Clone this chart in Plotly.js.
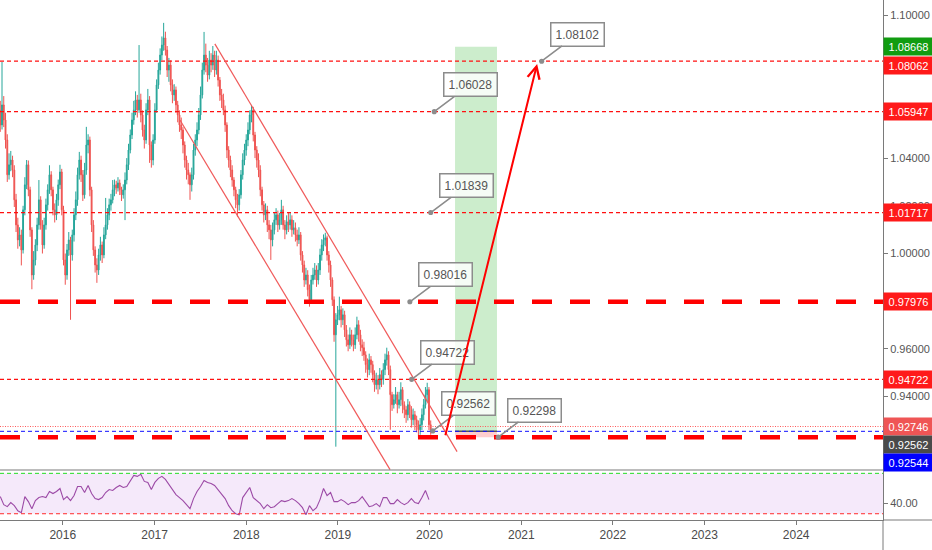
<!DOCTYPE html>
<html><head><meta charset="utf-8">
<script src="https://cdn.plot.ly/plotly-3.0.1.min.js"></script>
<style>html,body{margin:0;padding:0;background:#fff;}#chart{width:932px;height:550px;}</style>
</head><body><div id="chart"></div>
<script>
// ---- DATA (weekly candles) ----
const startWeek = '2015-04-27';
const firstOpen = 1.0600;
const closes = [
1.0539,1.0623,1.0560,1.0476,1.0330,1.0372,1.0392,1.0350,1.0225,1.0120,
1.0057,1.0078,1.0015,1.0183,1.0288,1.0372,1.0267,1.0099,0.9910,0.9973,
1.0036,1.0120,1.0225,1.0120,1.0036,1.0120,1.0204,1.0267,1.0330,1.0267,
1.0183,1.0162,1.0225,1.0288,1.0342,1.0183,0.9973,0.9910,1.0015,1.0057,
0.9994,1.0078,1.0162,1.0225,1.0330,1.0392,1.0330,1.0246,1.0350,1.0455,
1.0476,1.0267,1.0120,1.0015,0.9952,0.9931,0.9994,1.0036,0.9994,1.0078,
1.0120,1.0162,1.0204,1.0225,1.0267,1.0288,1.0275,1.0296,1.0267,1.0246,
1.0267,1.0308,1.0372,1.0434,1.0497,1.0560,1.0602,1.0644,1.0602,1.0644,
1.0581,1.0518,1.0476,1.0602,1.0644,1.0455,1.0392,1.0476,1.0602,1.0707,
1.0769,1.0832,1.0874,1.0904,1.0853,1.0769,1.0790,1.0707,1.0665,1.0686,
1.0623,1.0581,1.0539,1.0518,1.0455,1.0392,1.0350,1.0330,1.0288,1.0330,
1.0434,1.0476,1.0518,1.0581,1.0665,1.0769,1.0832,1.0790,1.0748,1.0811,
1.0790,1.0832,1.0769,1.0811,1.0727,1.0665,1.0644,1.0602,1.0539,1.0434,
1.0392,1.0350,1.0308,1.0267,1.0225,1.0204,1.0246,1.0330,1.0392,1.0434,
1.0476,1.0518,1.0581,1.0602,1.0497,1.0434,1.0392,1.0350,1.0267,1.0204,
1.0162,1.0183,1.0120,1.0099,1.0057,1.0099,1.0141,1.0162,1.0120,1.0141,
1.0183,1.0120,1.0099,1.0133,1.0120,1.0141,1.0099,1.0108,1.0078,1.0057,
1.0078,0.9994,0.9952,0.9889,0.9910,0.9848,0.9806,0.9889,0.9910,0.9931,
0.9889,0.9931,0.9994,1.0036,1.0057,1.0066,0.9994,0.9952,0.9889,0.9806,
0.9659,0.9722,0.9743,0.9764,0.9722,0.9743,0.9680,0.9638,0.9617,0.9659,
0.9638,0.9617,0.9659,0.9701,0.9659,0.9617,0.9605,0.9575,0.9534,0.9513,
0.9554,0.9534,0.9492,0.9450,0.9471,0.9450,0.9492,0.9471,0.9513,0.9554,
0.9575,0.9513,0.9408,0.9366,0.9387,0.9408,0.9366,0.9387,0.9429,0.9366,
0.9345,0.9324,0.9366,0.9345,0.9303,0.9324,0.9303,0.9282,0.9261,0.9282,
0.9324,0.9366,0.9408,0.9429,0.9282,0.92562];
const highs = [
1.0640,1.0803,1.0660,1.0590,1.0500,1.0420,1.0430,1.0410,1.0370,1.0250,
1.0150,1.0110,1.0100,1.0200,1.0320,1.0392,1.0390,1.0280,1.0110,1.0010,
1.0060,1.0150,1.0308,1.0240,1.0140,1.0150,1.0230,1.0290,1.0370,1.0345,
1.0280,1.0210,1.0250,1.0310,1.0372,1.0355,1.0200,1.0000,1.0040,1.0090,
1.0070,1.0100,1.0190,1.0260,1.0360,1.0426,1.0410,1.0350,1.0380,1.0531,
1.0500,1.0490,1.0280,1.0140,1.0030,0.9980,1.0020,1.0070,1.0050,1.0110,
1.0233,1.0190,1.0230,1.0250,1.0308,1.0310,1.0305,1.0320,1.0310,1.0280,
1.0290,1.0340,1.0400,1.0460,1.0520,1.0590,1.0640,1.0680,1.0665,1.0874,
1.0670,1.0600,1.0540,1.0630,1.0690,1.0660,1.0470,1.0500,1.0630,1.0730,
1.0800,1.0860,1.0910,1.0967,1.0930,1.0870,1.0820,1.0810,1.0730,1.0710,
1.0700,1.0640,1.0600,1.0570,1.0530,1.0470,1.0410,1.0380,1.0340,1.0360,
1.0460,1.0500,1.0550,1.0610,1.0700,1.0800,1.0929,1.0880,1.0820,1.0850,
1.0840,1.0870,1.0850,1.0850,1.0830,1.0740,1.0690,1.0670,1.0620,1.0550,
1.0450,1.0410,1.0370,1.0320,1.0280,1.0250,1.0270,1.0350,1.0420,1.0460,
1.0500,1.0550,1.0600,1.0623,1.0615,1.0510,1.0450,1.0420,1.0370,1.0280,
1.0220,1.0210,1.0200,1.0140,1.0120,1.0130,1.0170,1.0190,1.0180,1.0170,
1.0225,1.0200,1.0140,1.0160,1.0170,1.0170,1.0160,1.0140,1.0130,1.0100,
1.0110,1.0090,1.0010,0.9970,0.9940,0.9930,0.9870,0.9910,0.9940,0.9960,
0.9950,0.9960,1.0020,1.0060,1.0080,1.0087,1.0075,1.0010,0.9970,0.9900,
0.9820,0.9750,0.9780,0.9819,0.9780,0.9770,0.9760,0.9700,0.9660,0.9690,
0.9680,0.9660,0.9690,0.9735,0.9720,0.9680,0.9640,0.9630,0.9590,0.9560,
0.9580,0.9570,0.9550,0.9510,0.9500,0.9490,0.9520,0.9510,0.9540,0.9580,
0.9605,0.9590,0.9530,0.9420,0.9410,0.9440,0.9420,0.9420,0.9460,0.9440,
0.9380,0.9360,0.9390,0.9380,0.9360,0.9350,0.9340,0.9320,0.9300,0.9310,
0.9350,0.9390,0.9440,0.9458,0.9440,0.9300];
const lows = [
1.0510,1.0520,1.0530,1.0440,1.0300,1.0310,1.0345,1.0320,1.0195,1.0090,
1.0020,1.0030,0.9950,1.0000,1.0160,1.0270,1.0240,1.0070,0.9850,0.9890,
0.9950,1.0010,1.0100,1.0100,1.0000,1.0020,1.0100,1.0180,1.0250,1.0240,
1.0160,1.0130,1.0140,1.0200,1.0270,1.0160,0.9950,0.9869,0.9890,0.9990,
0.9722,0.9970,1.0050,1.0140,1.0200,1.0310,1.0300,1.0220,1.0230,1.0330,
1.0420,1.0240,1.0090,0.9990,0.9920,0.9877,0.9910,0.9970,0.9960,0.9980,
1.0060,1.0100,1.0140,1.0180,1.0210,1.0240,1.0250,1.0260,1.0245,1.0220,
1.0230,1.0140,1.0290,1.0350,1.0420,1.0480,1.0540,1.0580,1.0570,1.0590,
1.0550,1.0490,1.0440,1.0460,1.0580,1.0380,1.0360,1.0370,1.0460,1.0590,
1.0690,1.0750,1.0810,1.0850,1.0830,1.0740,1.0720,1.0680,1.0630,1.0640,
1.0590,1.0550,1.0510,1.0480,1.0420,1.0360,1.0310,1.0290,1.0225,1.0260,
1.0310,1.0410,1.0450,1.0500,1.0560,1.0650,1.0750,1.0760,1.0720,1.0730,
1.0760,1.0770,1.0740,1.0750,1.0700,1.0640,1.0610,1.0580,1.0510,1.0400,
1.0360,1.0320,1.0280,1.0240,1.0190,1.0154,1.0180,1.0230,1.0310,1.0370,
1.0410,1.0450,1.0500,1.0550,1.0470,1.0400,1.0360,1.0320,1.0240,1.0180,
1.0130,1.0140,1.0090,1.0060,0.9973,1.0030,1.0080,1.0120,1.0090,1.0100,
1.0120,1.0100,1.0060,1.0080,1.0090,1.0100,1.0070,1.0080,1.0050,1.0030,
1.0040,0.9970,0.9920,0.9860,0.9870,0.9820,0.9777,0.9790,0.9870,0.9890,
0.9860,0.9870,0.9910,0.9970,1.0010,1.0030,0.9970,0.9920,0.9860,0.9780,
0.9630,0.9190,0.9700,0.9720,0.9690,0.9700,0.9650,0.9610,0.9590,0.9600,
0.9610,0.9590,0.9600,0.9640,0.9630,0.9590,0.9570,0.9550,0.9500,0.9480,
0.9490,0.9500,0.9460,0.9420,0.9430,0.9410,0.9430,0.9440,0.9450,0.9490,
0.9530,0.9490,0.9261,0.9340,0.9350,0.9370,0.9330,0.9350,0.9360,0.9330,
0.9310,0.9290,0.9300,0.9310,0.9270,0.9280,0.9260,0.9250,0.9228,0.9240,
0.9260,0.9300,0.9350,0.9380,0.9260,0.9240];
// RSI, one reading every second week
const rsi = [47,39,37,41,38,33,31,47,42,35, 43,46,47,46,52,50,52,55,44,47,
43,48,57,57,51,58,50,45,44,46, 51,54,53,56,58,56,57,62,68,67,
69,62,61,54,61,65,67,64,59,55, 49,46,43,39,35,45,52,57,63,61,
60,58,54,50,45,38,33,30,29,46, 51,56,46,43,40,35,39,36,37,40,
43,42,43,45,43,40,36,29,38,33, 36,44,55,48,51,42,42,44,42,39,
41,41,43,47,42,37,38,40,37,46, 46,40,40,44,41,39,41,45,41,40,
46,53,44];
const rsiBands = [70, 30];
// horizontal levels
const thinLevels = [1.08062, 1.05947, 1.01717, 0.94722];
const thickLevels = [0.97976, 0.92298];
const dottedLevel = 0.92746;
const blueLevel = 0.92544;
// right-axis price tags
const tagPrices = [1.08668, 1.08062, 1.05947, 1.01717, 0.97976, 0.94722, 0.92746, 0.92562, 0.92544];
const tagTexts  = ['1.08668','1.08062','1.05947','1.01717','0.97976','0.94722','0.92746','0.92562','0.92544'];
// callouts
const calloutTexts  = ['1.08102','1.06028','1.01839','0.98016','0.94722','0.92562','0.92298'];
const calloutDates  = ['2021-03-23','2020-01-20','2020-01-06','2019-10-15','2019-10-22','2020-01-14','2020-10-01'];
const calloutPrices = [1.08062, 1.05947, 1.01717, 0.97976, 0.94722, 0.92562, 0.92298];
// drawings
const upperChannelDates = ['2017-08-29','2020-04-20'];
const upperChannelPrices = [1.0879, 0.9169];
const lowerChannelDates = ['2017-04-12','2019-07-28'];
const lowerChannelPrices = [1.0560, 0.9094];
const zoneDates = ['2020-04-12','2020-09-26'];
const zoneTarget = 1.08668, zoneEntry = 0.92544, zoneStop = 0.92298;
const arrowDates = ['2020-03-03','2021-03-05'];
const arrowPrices = [0.9232, 1.0795];

// ---- BUILD ----
const t0 = Date.parse(startWeek + 'T00:00:00Z');
const dates = closes.map((_, i) => new Date(t0 + i * 7 * 864e5).toISOString().slice(0, 10));
const opens = closes.map((c, i) => i === 0 ? firstOpen : closes[i - 1]);
const rsiDates = dates.filter((_, i) => i % 2 === 0).slice(0, rsi.length);

const FONT = "'Liberation Sans',Arial,sans-serif";

const traces = [
  {type:'candlestick', x:dates, open:opens, high:highs, low:lows, close:closes,
   xaxis:'x', yaxis:'y', whiskerwidth:0,
   increasing:{line:{color:'#26a69a', width:1}, fillcolor:'#26a69a'},
   decreasing:{line:{color:'#ef5350', width:1}, fillcolor:'#ef5350'},
   hoverinfo:'skip'},
  {type:'scatter', mode:'lines', x:rsiDates, y:rsi, xaxis:'x', yaxis:'y2',
   line:{color:'#9c4aa6', width:1.1}, hoverinfo:'skip'}
];

const shapes = [];
// RSI background band
shapes.push({type:'rect', xref:'paper', yref:'y2', x0:0, x1:1, y0:rsiBands[1], y1:rsiBands[0],
  fillcolor:'rgba(160,40,210,0.10)', line:{width:0}, layer:'below'});
shapes.push({type:'line', xref:'paper', yref:'y2', x0:0, x1:1, y0:rsiBands[0], y1:rsiBands[0],
  line:{color:'#22dd22', width:1, dash:'4px,3px'}});
shapes.push({type:'line', xref:'paper', yref:'y2', x0:0, x1:1, y0:rsiBands[1], y1:rsiBands[1],
  line:{color:'#ff2a2a', width:1, dash:'4px,3px'}});
// long position zone
shapes.push({type:'rect', xref:'x', yref:'y', x0:zoneDates[0], x1:zoneDates[1], y0:zoneEntry, y1:zoneTarget,
  fillcolor:'rgba(40,180,40,0.24)', line:{width:0}});
shapes.push({type:'rect', xref:'x', yref:'y', x0:zoneDates[0], x1:zoneDates[1], y0:zoneStop, y1:zoneEntry,
  fillcolor:'rgba(255,60,60,0.25)', line:{width:0}});
shapes.push({type:'line', xref:'x', yref:'y', x0:zoneDates[0], x1:zoneDates[1], y0:zoneEntry, y1:zoneEntry,
  line:{color:'#555', width:1.5}});
// horizontal levels
thinLevels.forEach(p => shapes.push({type:'line', xref:'paper', yref:'y', x0:0, x1:1, y0:p, y1:p,
  line:{color:'#ff1010', width:1.2, dash:'4px,3px'}}));
thickLevels.forEach(p => shapes.push({type:'line', xref:'paper', yref:'y', x0:0, x1:1, y0:p, y1:p,
  line:{color:'#ff0000', width:4.5, dash:'20px,18px'}}));
shapes.push({type:'line', xref:'paper', yref:'y', x0:0, x1:1, y0:dottedLevel, y1:dottedLevel,
  line:{color:'#ff5a5a', width:1, dash:'1px,1.5px'}});
shapes.push({type:'line', xref:'paper', yref:'y', x0:0, x1:1, y0:blueLevel, y1:blueLevel,
  line:{color:'#1010ff', width:1, dash:'4px,3px'}});
// channel
shapes.push({type:'line', xref:'x', yref:'y', x0:upperChannelDates[0], x1:upperChannelDates[1],
  y0:upperChannelPrices[0], y1:upperChannelPrices[1], line:{color:'#f05a5a', width:1.2}});
shapes.push({type:'line', xref:'x', yref:'y', x0:lowerChannelDates[0], x1:lowerChannelDates[1],
  y0:lowerChannelPrices[0], y1:lowerChannelPrices[1], line:{color:'#f05a5a', width:1.2}});
// pane separator and axis extensions
const PANE = 50/520;
shapes.push({type:'line', xref:'paper', yref:'paper', x0:0, x1:1.0555, y0:PANE, y1:PANE,
  line:{color:'#7a7a7a', width:1.2}});
shapes.push({type:'line', xref:'paper', yref:'paper', x0:1, x1:1.0555, y0:0, y1:0,
  line:{color:'#7a7a7a', width:1}});
shapes.push({type:'line', xref:'paper', yref:'paper', x0:1, x1:1, y0:-0.06, y1:0,
  line:{color:'#7a7a7a', width:1}});

const annotations = [];
// callouts
calloutTexts.forEach((t, i) => annotations.push({
  x:calloutDates[i], y:calloutPrices[i], xref:'x', yref:'y', text:t,
  showarrow:true, ax:36, ay:-27, arrowhead:6, arrowsize:0.8, arrowwidth:1.6, arrowcolor:'#8c8c8c',
  bgcolor:'rgba(255,255,255,0.82)', bordercolor:'#8c8c8c', borderwidth:1.5, borderpad:4,
  font:{family:FONT, size:12, color:'#555'}
}));
// red arrow
annotations.push({x:arrowDates[1], y:arrowPrices[1], xref:'x', yref:'y', axref:'x', ayref:'y',
  ax:arrowDates[0], ay:arrowPrices[0], text:'', showarrow:true, arrowhead:5, arrowsize:1.2,
  arrowwidth:2, arrowcolor:'#ff0000', standoff:0});
// right-axis price tags
const tagColors = ['#119c11','#ff1a1a','#ff1a1a','#ff1a1a','#ff1a1a','#ff1a1a','#ef5555','#4a4a4a','#0000ff'];
const tagShift  = [0,-4.5,0,0,0,0,0,-13.5,-31];
tagPrices.forEach((p, i) => annotations.push({
  x:1, xref:'paper', xanchor:'left', y:p, yref:'y', yanchor:'middle', yshift:tagShift[i],
  text:tagTexts[i], showarrow:false, width:45, height:13, borderpad:2, bgcolor:tagColors[i],
  font:{family:FONT, size:11, color:'#ffffff'}, align:'center'
}));

const layout = {
  width:932, height:550, margin:{l:0, r:49, t:0, b:30},
  paper_bgcolor:'#ffffff', plot_bgcolor:'#ffffff', showlegend:false, hovermode:false,
  font:{family:FONT},
  xaxis:{type:'date', range:['2015-04-26','2024-12-12'], anchor:'y2', showgrid:false, zeroline:false,
    rangeslider:{visible:false}, showline:true, linecolor:'#7a7a7a', linewidth:1,
    ticks:'outside', ticklen:4, tickcolor:'#7a7a7a', tick0:'2016-01-01', dtick:'M12', tickformat:'%Y',
    tickfont:{family:FONT, size:12, color:'#4a4a4a'}},
  yaxis:{domain:[PANE, 1], range:[0.90922, 1.10629], side:'right', anchor:'x', showgrid:false, zeroline:false,
    showline:true, linecolor:'#7a7a7a', linewidth:1, ticks:'outside', ticklen:4, tickcolor:'#7a7a7a',
    tick0:0, dtick:0.02, tickformat:'.5f', tickfont:{family:FONT, size:11, color:'#555'}},
  yaxis2:{domain:[0, PANE], range:[23.8, 73.3], side:'right', anchor:'x', showgrid:false, zeroline:false,
    showline:true, linecolor:'#7a7a7a', linewidth:1, ticks:'outside', ticklen:4, tickcolor:'#7a7a7a',
    tickvals:[40], tickformat:'.2f', tickfont:{family:FONT, size:11, color:'#555'}},
  shapes:shapes, annotations:annotations
};

Plotly.newPlot('chart', traces, layout, {staticPlot:true, displayModeBar:false});
</script></body></html>
